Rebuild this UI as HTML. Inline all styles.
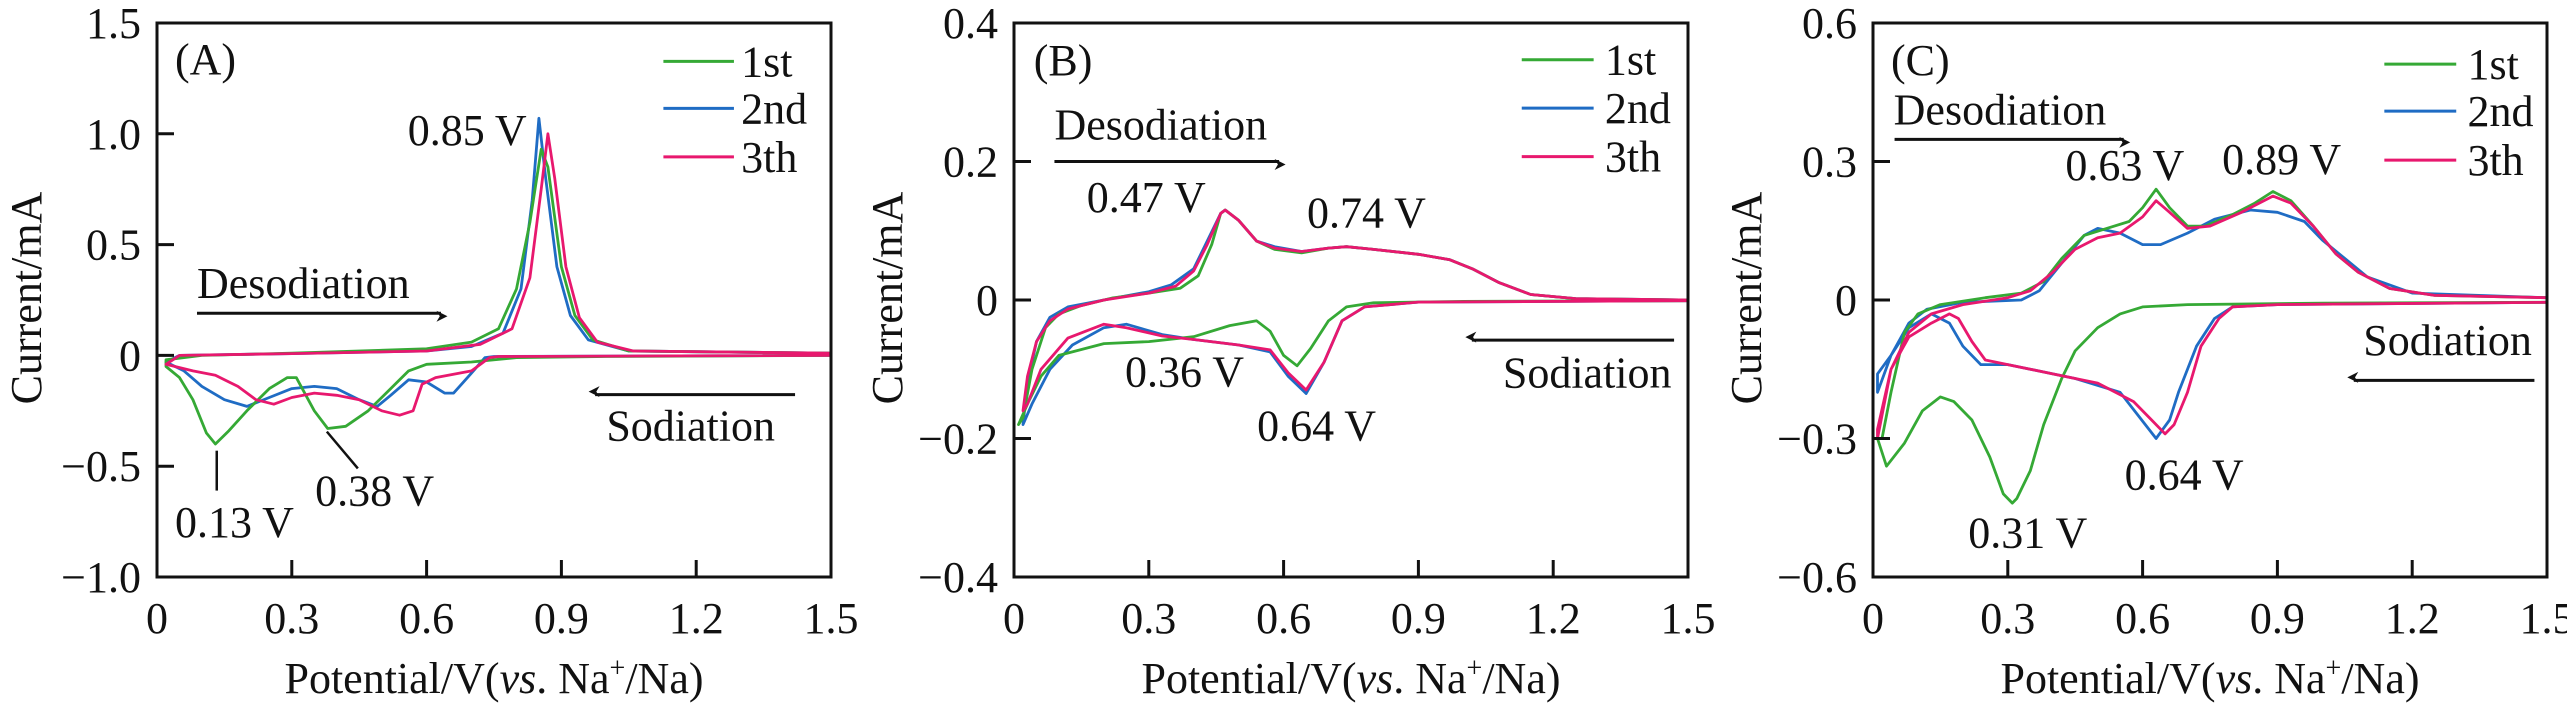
<!DOCTYPE html>
<html><head><meta charset="utf-8"><style>
html,body{margin:0;padding:0;background:#fff;}
svg{display:block;}
svg text{font-family:"Liberation Serif","Times New Roman",serif !important;font-size:44px;fill:#111;}
</style></head><body>
<svg id="fig" width="2567" height="709" viewBox="0 0 2567 709" font-family="Liberation Serif, serif"></svg>
<script>
// ---- data ----
const xTicks=[0,0.3,0.6,0.9,1.2,1.5];
const xTickLabels=["0","0.3","0.6","0.9","1.2","1.5"];
const seriesNames=["1st","2nd","3th"];
const yTicksA=[1.5,1.0,0.5,0,-0.5,-1.0];
const yTickLabelsA=["1.5","1.0","0.5","0","\u22120.5","\u22121.0"];
const yTicksB=[0.4,0.2,0,-0.2,-0.4];
const yTickLabelsB=["0.4","0.2","0","\u22120.2","\u22120.4"];
const yTicksC=[0.6,0.3,0,-0.3,-0.6];
const yTickLabelsC=["0.6","0.3","0","\u22120.3","\u22120.6"];

const A1=[[1.5,0.0],[1.0,-0.005],[0.8,-0.01],[0.7,-0.03],[0.6,-0.04],[0.56,-0.07],[0.52,-0.15],[0.47,-0.25],[0.42,-0.32],[0.38,-0.33],[0.35,-0.25],[0.31,-0.1],[0.29,-0.1],[0.25,-0.15],[0.2,-0.25],[0.16,-0.34],[0.13,-0.4],[0.11,-0.35],[0.08,-0.2],[0.05,-0.1],[0.02,-0.05],[0.02,-0.02],[0.1,0.0],[0.3,0.01],[0.6,0.03],[0.7,0.06],[0.76,0.12],[0.8,0.3],[0.83,0.6],[0.855,0.93],[0.87,0.85],[0.9,0.4],[0.93,0.18],[0.97,0.07],[1.05,0.02],[1.5,0.01]];
const A2=[[1.5,0.0],[1.0,-0.003],[0.75,-0.005],[0.73,-0.01],[0.7,-0.08],[0.66,-0.17],[0.64,-0.17],[0.6,-0.12],[0.56,-0.11],[0.52,-0.18],[0.49,-0.23],[0.45,-0.2],[0.4,-0.15],[0.35,-0.14],[0.3,-0.15],[0.25,-0.19],[0.2,-0.23],[0.15,-0.2],[0.1,-0.14],[0.06,-0.07],[0.03,-0.04],[0.02,-0.03],[0.05,0.0],[0.3,0.008],[0.6,0.02],[0.7,0.04],[0.77,0.1],[0.81,0.3],[0.835,0.7],[0.85,1.07],[0.865,0.8],[0.89,0.4],[0.92,0.18],[0.96,0.07],[1.05,0.02],[1.5,0.01]];
const A3=[[1.5,0.0],[1.0,-0.003],[0.76,-0.005],[0.74,-0.01],[0.7,-0.07],[0.62,-0.1],[0.59,-0.13],[0.57,-0.25],[0.54,-0.27],[0.5,-0.25],[0.45,-0.2],[0.4,-0.18],[0.35,-0.17],[0.3,-0.19],[0.26,-0.22],[0.22,-0.2],[0.18,-0.14],[0.13,-0.09],[0.08,-0.07],[0.04,-0.05],[0.02,-0.04],[0.05,0.0],[0.3,0.008],[0.6,0.02],[0.72,0.05],[0.79,0.12],[0.83,0.35],[0.855,0.75],[0.87,1.0],[0.885,0.8],[0.91,0.4],[0.94,0.17],[0.98,0.06],[1.06,0.02],[1.5,0.01]];

const B1=[[1.5,-0.001],[1.0,-0.002],[0.8,-0.004],[0.74,-0.01],[0.7,-0.03],[0.66,-0.07],[0.63,-0.095],[0.6,-0.08],[0.57,-0.045],[0.54,-0.03],[0.48,-0.037],[0.4,-0.053],[0.3,-0.06],[0.2,-0.063],[0.1,-0.08],[0.06,-0.11],[0.03,-0.15],[0.01,-0.18],[0.02,-0.17],[0.04,-0.1],[0.07,-0.04],[0.1,-0.02],[0.15,-0.008],[0.22,0.003],[0.3,0.01],[0.37,0.017],[0.41,0.035],[0.44,0.08],[0.46,0.125],[0.47,0.13],[0.5,0.115],[0.54,0.085],[0.58,0.073],[0.64,0.068],[0.7,0.075],[0.74,0.077],[0.8,0.073],[0.9,0.066],[0.97,0.058],[1.02,0.045],[1.08,0.025],[1.15,0.008],[1.25,0.002],[1.5,0.0]];
const B2=[[1.5,-0.001],[0.9,-0.003],[0.78,-0.01],[0.73,-0.03],[0.69,-0.09],[0.65,-0.135],[0.61,-0.11],[0.57,-0.075],[0.5,-0.065],[0.4,-0.057],[0.33,-0.05],[0.25,-0.035],[0.2,-0.04],[0.13,-0.065],[0.08,-0.1],[0.04,-0.15],[0.02,-0.18],[0.03,-0.12],[0.05,-0.06],[0.08,-0.025],[0.12,-0.01],[0.2,0.0],[0.3,0.012],[0.35,0.022],[0.4,0.045],[0.43,0.085],[0.46,0.125],[0.47,0.13],[0.5,0.115],[0.54,0.085],[0.58,0.077],[0.64,0.07],[0.7,0.075],[0.74,0.077],[0.8,0.073],[0.9,0.066],[0.97,0.058],[1.02,0.045],[1.08,0.025],[1.15,0.008],[1.25,0.002],[1.5,0.0]];
const B3=[[1.5,-0.001],[0.9,-0.003],[0.78,-0.01],[0.73,-0.03],[0.69,-0.09],[0.65,-0.13],[0.61,-0.105],[0.57,-0.072],[0.5,-0.065],[0.4,-0.057],[0.33,-0.052],[0.25,-0.04],[0.2,-0.035],[0.12,-0.055],[0.06,-0.1],[0.03,-0.15],[0.02,-0.16],[0.03,-0.11],[0.05,-0.06],[0.08,-0.03],[0.12,-0.013],[0.2,0.0],[0.3,0.01],[0.36,0.02],[0.4,0.042],[0.43,0.08],[0.46,0.125],[0.47,0.13],[0.5,0.115],[0.54,0.085],[0.58,0.075],[0.64,0.07],[0.7,0.075],[0.74,0.077],[0.8,0.073],[0.9,0.066],[0.97,0.058],[1.02,0.045],[1.08,0.025],[1.15,0.008],[1.25,0.002],[1.5,0.0]];

const C1=[[1.5,-0.005],[1.0,-0.007],[0.7,-0.01],[0.6,-0.015],[0.55,-0.03],[0.5,-0.06],[0.45,-0.11],[0.42,-0.17],[0.38,-0.27],[0.35,-0.37],[0.32,-0.43],[0.31,-0.44],[0.29,-0.42],[0.26,-0.34],[0.22,-0.26],[0.18,-0.22],[0.15,-0.21],[0.11,-0.24],[0.07,-0.31],[0.03,-0.36],[0.01,-0.3],[0.02,-0.3],[0.04,-0.2],[0.07,-0.07],[0.1,-0.03],[0.15,-0.01],[0.25,0.005],[0.33,0.015],[0.38,0.04],[0.42,0.09],[0.47,0.14],[0.52,0.155],[0.57,0.17],[0.6,0.2],[0.63,0.24],[0.66,0.2],[0.7,0.16],[0.74,0.16],[0.8,0.185],[0.85,0.21],[0.89,0.235],[0.93,0.215],[0.98,0.16],[1.03,0.1],[1.08,0.06],[1.15,0.025],[1.25,0.01],[1.5,0.005]];
const C2=[[1.5,-0.005],[0.9,-0.01],[0.8,-0.015],[0.76,-0.04],[0.72,-0.1],[0.68,-0.2],[0.66,-0.26],[0.63,-0.3],[0.59,-0.25],[0.55,-0.2],[0.45,-0.17],[0.3,-0.14],[0.24,-0.14],[0.2,-0.1],[0.17,-0.05],[0.13,-0.03],[0.08,-0.06],[0.04,-0.12],[0.01,-0.2],[0.01,-0.16],[0.04,-0.12],[0.08,-0.05],[0.12,-0.02],[0.2,-0.005],[0.33,0.0],[0.37,0.02],[0.42,0.08],[0.47,0.14],[0.5,0.155],[0.55,0.145],[0.6,0.12],[0.64,0.12],[0.7,0.145],[0.76,0.175],[0.84,0.195],[0.9,0.19],[0.96,0.17],[1.0,0.13],[1.05,0.09],[1.1,0.05],[1.2,0.015],[1.5,0.005]];
const C3=[[1.5,-0.005],[0.9,-0.01],[0.8,-0.015],[0.77,-0.04],[0.73,-0.1],[0.7,-0.2],[0.67,-0.27],[0.65,-0.29],[0.62,-0.26],[0.58,-0.22],[0.5,-0.18],[0.4,-0.16],[0.3,-0.14],[0.25,-0.13],[0.22,-0.09],[0.19,-0.04],[0.17,-0.03],[0.13,-0.05],[0.08,-0.08],[0.04,-0.15],[0.01,-0.3],[0.01,-0.28],[0.04,-0.15],[0.08,-0.07],[0.13,-0.03],[0.2,-0.01],[0.3,0.005],[0.35,0.02],[0.4,0.06],[0.45,0.11],[0.5,0.135],[0.55,0.145],[0.6,0.18],[0.63,0.215],[0.66,0.19],[0.7,0.155],[0.75,0.16],[0.82,0.19],[0.89,0.225],[0.93,0.21],[0.98,0.16],[1.03,0.1],[1.08,0.06],[1.15,0.025],[1.25,0.01],[1.5,0.005]];

const colors=["#35a935","#1f6cc4","#e8186e"];
const NS="http://www.w3.org/2000/svg";
const svg=document.getElementById('fig');
function mk(tag,attrs,parent){const e=document.createElementNS(NS,tag);for(const k in attrs)e.setAttribute(k,attrs[k]);if(tag==='text')e.setAttribute('font-family','Liberation Serif, Times New Roman, serif');(parent||svg).appendChild(e);return e;}

const panels=[
 {id:"a",left:157,ymin:-1.0,ymax:1.5,yt:yTicksA,yl:yTickLabelsA,series:[A1,A2,A3],label:"(A)",
  legX:[1.127,1.284,1.30],legY:[1.327,1.115,0.896],labPos:[0.04,1.27],
  des:[0.089,0.26,0.089,0.632,0.19],sod:[1.0,-0.385,1.42,0.975,-0.177],
  notes:[["0.85 V",0.558,0.95],["0.13 V",0.04,-0.82],["0.38 V",0.352,-0.677]],
  lines:[[0.133,-0.43,0.133,-0.61],[0.378,-0.344,0.447,-0.51]]},
 {id:"b",left:1014,ymin:-0.4,ymax:0.4,yt:yTicksB,yl:yTickLabelsB,series:[B1,B2,B3],label:"(B)",
  legX:[1.13,1.29,1.315],legY:[0.347,0.277,0.207],labPos:[0.044,0.325],
  des:[0.09,0.232,0.09,0.59,0.2],sod:[1.088,-0.126,1.469,1.019,-0.058],
  notes:[["0.47 V",0.162,0.127],["0.74 V",0.652,0.105],["0.36 V",0.247,-0.125],["0.64 V",0.541,-0.203]],lines:[]},
 {id:"c",left:1873,ymin:-0.6,ymax:0.6,yt:yTicksC,yl:yTickLabelsC,series:[C1,C2,C3],label:"(C)",
  legX:[1.138,1.298,1.323],legY:[0.511,0.409,0.303],labPos:[0.04,0.487],
  des:[0.046,0.38,0.048,0.558,0.348],sod:[1.091,-0.119,1.472,1.07,-0.174],
  notes:[["0.63 V",0.428,0.26],["0.89 V",0.777,0.273],["0.64 V",0.56,-0.41],["0.31 V",0.212,-0.536]],lines:[]}
];
const W=674,TOP=23,BOT=577;
mk('defs',{}).innerHTML='<marker id="ah" viewBox="0 0 10 10" refX="9" refY="5" markerWidth="6" markerHeight="5" orient="auto" markerUnits="userSpaceOnUse" style="overflow:visible"><path d="M0,0 L10,5 L0,10 L3,5 Z" fill="#111" transform="scale(2.2)"/></marker>';

panels.forEach(p=>{
  const g=mk('g',{});
  
  
  const sx=v=>p.left+v/1.5*W;
  const sy=v=>BOT-(v-p.ymin)/(p.ymax-p.ymin)*(BOT-TOP);
  const clip=mk('clipPath',{id:'clip'+p.id},g);mk('rect',{x:p.left,y:TOP,width:W,height:BOT-TOP},clip);
  [1,0,2].forEach(i=>{
    const d=p.series[i].map((pt,j)=>(j?'L':'M')+sx(pt[0]).toFixed(1)+','+sy(pt[1]).toFixed(1)).join(' ');
    const path=mk('path',{d:d,fill:'none',stroke:colors[i],'stroke-width':2.8,'stroke-linejoin':'round','clip-path':'url(#clip'+p.id+')'},g);
    
    
  });
  const box=mk('rect',{x:p.left,y:TOP,width:W,height:BOT-TOP,fill:'none',stroke:'#111','stroke-width':3},g);
  
  
  xTicks.forEach((t,i)=>{
    if(i>0&&i<xTicks.length-1) mk('line',{x1:sx(t),x2:sx(t),y1:BOT,y2:BOT-17,stroke:'#111','stroke-width':3},g);
    const tx=mk('text',{x:sx(t),y:633,'text-anchor':'middle'},g);tx.textContent=xTickLabels[i];
    
    
  });
  p.yt.forEach((t,i)=>{
    if(i>0&&i<p.yt.length-1) mk('line',{x1:p.left,x2:p.left+17,y1:sy(t),y2:sy(t),stroke:'#111','stroke-width':3},g);
    const tx=mk('text',{x:p.left-16,y:sy(t)+15,'text-anchor':'end'},g);tx.textContent=p.yl[i];
    
    
  });
  const xt=mk('text',{x:p.left+W/2,y:693,'text-anchor':'middle'},g);
  xt.innerHTML='Potential/V(<tspan font-style="italic">vs</tspan>. Na<tspan font-size="28" dy="-16">+</tspan><tspan dy="16">/Na)</tspan>';
  
  
  const yx=p.left-(p.id==='a'?131:127)+15;
  const yt=mk('text',{x:yx,y:298,'text-anchor':'middle',transform:'rotate(-90 '+yx+' 298)'},g);
  yt.textContent='Current/mA';
  
  
  const pl=mk('text',{x:sx(p.labPos[0]),y:sy(p.labPos[1])},g);pl.textContent=p.label;
  
  
  seriesNames.forEach((n,i)=>{
    const y=sy(p.legY[i]);
    const ln=mk('line',{x1:sx(p.legX[0]),x2:sx(p.legX[1]),y1:y,y2:y,stroke:colors[i],'stroke-width':3},g);
    
    
    const t=mk('text',{x:sx(p.legX[2]),y:y+15},g);t.textContent=n;
    
    
  });
  const dt=mk('text',{x:sx(p.des[0]),y:sy(p.des[1])},g);dt.textContent='Desodiation';
  
  
  const da=mk('line',{x1:sx(p.des[2]),x2:sx(p.des[3]),y1:sy(p.des[4]),y2:sy(p.des[4]),stroke:'#111','stroke-width':3,'marker-end':'url(#ah)'},g);
  
  
  const st=mk('text',{x:sx(p.sod[0]),y:sy(p.sod[1])},g);st.textContent='Sodiation';
  
  
  const sa=mk('line',{x1:sx(p.sod[2]),x2:sx(p.sod[3]),y1:sy(p.sod[4]),y2:sy(p.sod[4]),stroke:'#111','stroke-width':3,'marker-end':'url(#ah)'},g);
  
  
  p.notes.forEach(n=>{
    const t=mk('text',{x:sx(n[1]),y:sy(n[2])},g);t.textContent=n[0];
    
    
  });
  p.lines.forEach(l=>{
    const ln=mk('line',{x1:sx(l[0]),y1:sy(l[1]),x2:sx(l[2]),y2:sy(l[3]),stroke:'#111','stroke-width':2.5},g);
    
    
  });
});
</script>
</body></html>
